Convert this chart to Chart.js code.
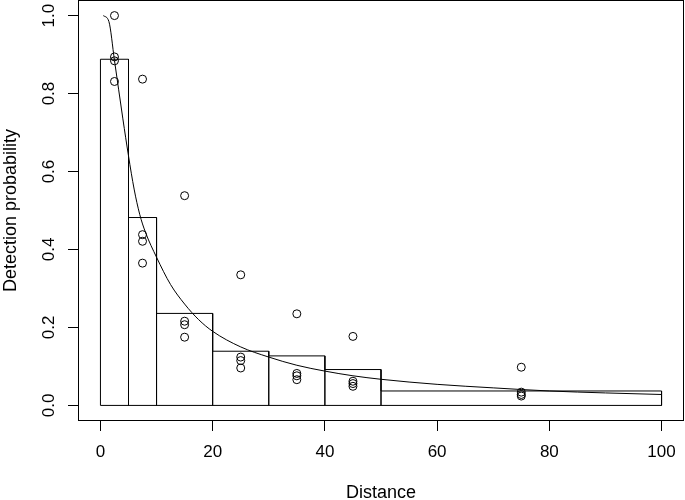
<!DOCTYPE html>
<html>
<head>
<meta charset="utf-8">
<script src="https://cdn.jsdelivr.net/npm/chart.js@4.4.1/dist/chart.umd.min.js"></script>
<style>
  html, body { margin: 0; padding: 0; background: #fff; }
  #wrap { width: 685px; height: 500px; }
</style>
</head>
<body>
<div id="wrap"><canvas id="detection-chart" width="685" height="500"></canvas></div>
<script>
// Histogram bins (distance intervals) and bar heights
const binEdges = [0, 5, 10, 20, 30, 40, 50, 100];
const barHeights = [0.888, 0.482, 0.236, 0.139, 0.127, 0.092, 0.037];

// Observed points per bin midpoint
const pointX = [2.5, 2.5, 2.5, 2.5, 7.5, 7.5, 7.5, 7.5, 15, 15, 15, 15, 25, 25, 25, 25,
  35, 35, 35, 35, 45, 45, 45, 45, 75, 75, 75, 75];
const pointY = [1.0, 0.894, 0.884, 0.831, 0.837, 0.438, 0.421, 0.365, 0.538, 0.216, 0.207, 0.175,
  0.335, 0.124, 0.115, 0.096, 0.235, 0.082, 0.076, 0.066, 0.177, 0.062, 0.056, 0.049,
  0.098, 0.034, 0.028, 0.024];

// Fitted detection curve
const curveX = [0.5, 1.5, 2.5, 4, 5, 6, 7, 8, 10, 12.5, 15, 17.5, 20, 25, 30, 35, 40, 45, 50, 60, 70, 80, 90, 100];
const curveY = [1.0, 0.985, 0.885, 0.735, 0.64, 0.555, 0.49, 0.445, 0.38, 0.31, 0.26, 0.22, 0.19,
  0.15, 0.124, 0.103, 0.088, 0.076, 0.067, 0.054, 0.045, 0.037, 0.032, 0.028];

// Axis ticks
const xTicks = [0, 20, 40, 60, 80, 100];
const yTicks = [0, 0.2, 0.4, 0.6, 0.8, 1.0];

const TICK_FONT = { family: "'Liberation Sans', Arial, sans-serif", size: 17 };
const TITLE_FONT = { family: "'Liberation Sans', Arial, sans-serif", size: 18 };

// Outline of histogram rectangles built from the bins
const barOutline = [{ x: binEdges[0], y: 0 }];
barHeights.forEach((h, i) => {
  barOutline.push({ x: binEdges[i], y: h });
  barOutline.push({ x: binEdges[i + 1], y: h });
  barOutline.push({ x: binEdges[i + 1], y: 0 });
});
barOutline.push({ x: binEdges[0], y: 0 });

const points = pointX.map((x, i) => ({ x: x, y: pointY[i] }));
const curve = curveX.map((x, i) => ({ x: x, y: curveY[i] }));

// Box around the plot region
const boxPlugin = {
  id: 'box',
  afterDraw(chart) {
    const a = chart.chartArea;
    const ctx = chart.ctx;
    ctx.save();
    ctx.strokeStyle = '#000';
    ctx.lineWidth = 1;
    ctx.strokeRect(Math.round(a.left) + 0.5, Math.round(a.top) + 0.5,
      Math.round(a.right - a.left) - 1, Math.round(a.bottom - a.top) - 1);
    ctx.restore();
  }
};

const ctx = document.getElementById('detection-chart').getContext('2d');
const chart = new Chart(ctx, {
  type: 'scatter',
  data: {
    datasets: [
      {
        type: 'line',
        data: barOutline,
        borderColor: '#000',
        borderWidth: 1,
        pointRadius: 0,
        tension: 0,
        fill: false
      },
      {
        data: points,
        pointStyle: 'circle',
        pointRadius: 4,
        borderColor: '#000',
        borderWidth: 1,
        backgroundColor: 'rgba(0,0,0,0)'
      },
      {
        type: 'line',
        data: curve,
        borderColor: '#000',
        borderWidth: 1,
        pointRadius: 0,
        cubicInterpolationMode: 'monotone',
        fill: false
      }
    ]
  },
  options: {
    responsive: false,
    animation: false,
    layout: { autoPadding: false, padding: { top: 0, right: 1, bottom: 0, left: 0 } },
    plugins: {
      legend: { display: false },
      tooltip: { enabled: false }
    },
    scales: {
      x: {
        type: 'linear',
        min: -4,
        max: 104,
        afterBuildTicks: (scale) => { scale.ticks = xTicks.map(v => ({ value: v })); },
        afterFit: (scale) => {
          scale.height = 79;
          scale.paddingLeft = 0;
          scale.paddingRight = 0;
        },
        border: { display: false },
        grid: { drawOnChartArea: false, drawTicks: true, tickLength: 10, color: '#000', tickColor: '#000' },
        ticks: { color: '#000', font: TICK_FONT, padding: 11, maxRotation: 0, callback: (v) => String(v) },
        title: { display: true, text: 'Distance', color: '#000', font: TITLE_FONT, padding: { top: 0, bottom: -4 } }
      },
      y: {
        type: 'linear',
        min: -0.04,
        max: 1.04,
        afterBuildTicks: (scale) => { scale.ticks = yTicks.map(v => ({ value: v })); },
        afterFit: (scale) => {
          scale.width = 78;
          scale.paddingTop = 0;
          scale.paddingBottom = 0;
        },
        border: { display: false },
        grid: { drawOnChartArea: false, drawTicks: true, tickLength: 10, color: '#000', tickColor: '#000' },
        ticks: { color: '#000', font: TICK_FONT, padding: 7, minRotation: 90, maxRotation: 90, crossAlign: 'center',
          callback: (v) => Number(v).toFixed(1) },
        title: { display: true, text: 'Detection probability', color: '#000', font: TITLE_FONT, padding: { top: 0, bottom: 0 } }
      }
    }
  },
  plugins: [boxPlugin]
});
</script>
</body>
</html>
